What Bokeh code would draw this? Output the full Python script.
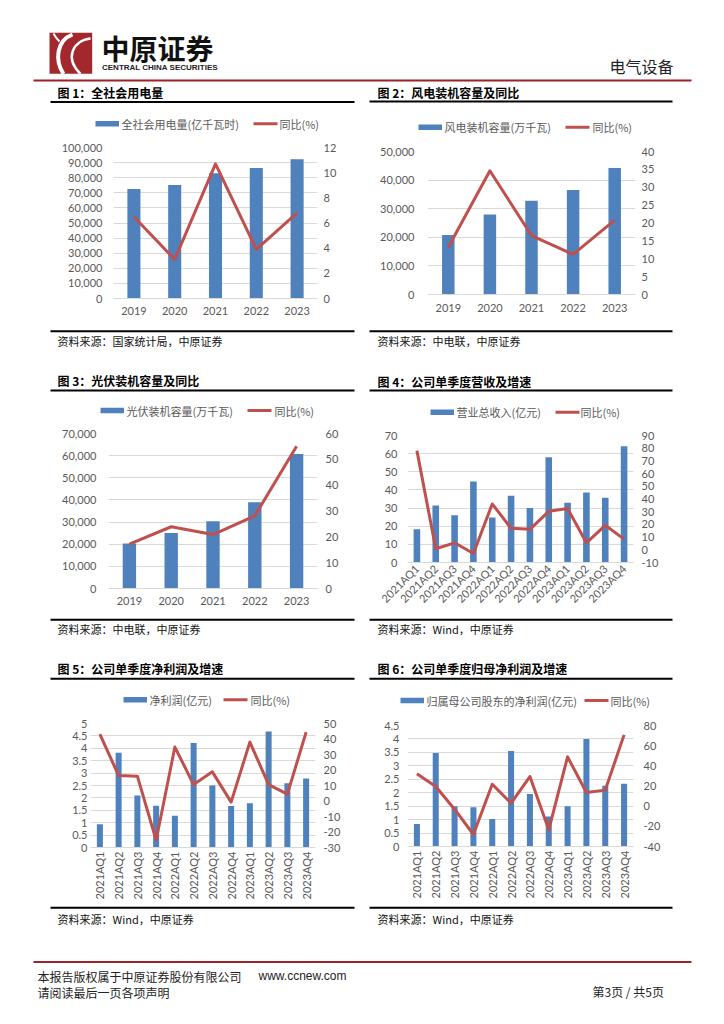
import math
from bokeh.plotting import figure
from bokeh.layouts import column, row
from bokeh.models import (Range1d, FactorRange, LinearAxis, FixedTicker, NumeralTickFormatter,
                          Label, ColumnDataSource)
from bokeh.embed import file_html
from bokeh.resources import INLINE

# ---------------- data ----------------
years = ["2019", "2020", "2021", "2022", "2023"]
quarters = ["2021AQ1", "2021AQ2", "2021AQ3", "2021AQ4",
            "2022AQ1", "2022AQ2", "2022AQ3", "2022AQ4",
            "2023AQ1", "2023AQ2", "2023AQ3", "2023AQ4"]

power_use = [72500, 75100, 83000, 86400, 92200]
power_use_yoy = [6.5, 3.1, 10.7, 3.9, 6.8]

wind_cap = [20800, 28000, 32800, 36500, 44200]
wind_yoy = [13.2, 34.6, 16.5, 11.2, 20.8]

solar_cap = [20300, 25100, 30400, 39000, 60700]
solar_yoy = [17.2, 23.9, 20.9, 28.1, 55.1]

revenue = [18.3, 31.4, 26.1, 44.7, 24.8, 36.8, 30.1, 58.0, 32.9, 38.6, 35.7, 64.1]
revenue_yoy = [78.1, 0.8, 5.5, -2.9, 36.1, 16.9, 16.1, 30.3, 32.5, 5.5, 19.3, 8.4]

net_profit = [0.94, 3.82, 2.10, 1.68, 1.28, 4.21, 2.50, 1.67, 1.78, 4.68, 2.59, 2.78]
net_profit_yoy = [43.2, 16.4, 16.0, -25.3, 34.8, 10.6, 18.8, -0.7, 38.0, 10.6, 4.4, 44.4]

parent_np = [0.84, 3.48, 1.50, 1.46, 1.02, 3.55, 1.95, 1.12, 1.50, 4.00, 2.26, 2.33]
parent_np_yoy = [32.1, 19.5, -3.0, -28.1, 21.8, 3.0, 29.4, -23.5, 48.9, 13.6, 15.9, 70.7]

ticks_l1 = [0, 10000, 20000, 30000, 40000, 50000, 60000, 70000, 80000, 90000, 100000]
ticks_r1 = [0, 2, 4, 6, 8, 10, 12]
ticks_l2 = [0, 10000, 20000, 30000, 40000, 50000]
ticks_r2 = [0, 5, 10, 15, 20, 25, 30, 35, 40]
ticks_l3 = [0, 10000, 20000, 30000, 40000, 50000, 60000, 70000]
ticks_r3 = [0, 10, 20, 30, 40, 50, 60]
ticks_l4 = [0, 10, 20, 30, 40, 50, 60, 70]
ticks_r4 = [-10, 0, 10, 20, 30, 40, 50, 60, 70, 80, 90]
ticks_l5 = [0, 0.5, 1, 1.5, 2, 2.5, 3, 3.5, 4, 4.5, 5]
ticks_r5 = [-30, -20, -10, 0, 10, 20, 30, 40, 50]
ticks_l6 = [0, 0.5, 1, 1.5, 2, 2.5, 3, 3.5, 4, 4.5]
ticks_r6 = [-40, -20, 0, 20, 40, 60, 80]

titles = ["图 1：全社会用电量", "图 2：风电装机容量及同比", "图 3：光伏装机容量及同比",
          "图 4：公司单季度营收及增速", "图 5：公司单季度净利润及增速", "图 6：公司单季度归母净利润及增速"]
sources = ["资料来源：国家统计局，中原证券", "资料来源：中电联，中原证券", "资料来源：中电联，中原证券",
           "资料来源：Wind，中原证券", "资料来源：Wind，中原证券", "资料来源：Wind，中原证券"]
bar_names = ["全社会用电量(亿千瓦时)", "风电装机容量(万千瓦)", "光伏装机容量(万千瓦)",
             "营业总收入(亿元)", "净利润(亿元)", "归属母公司股东的净利润(亿元)"]
line_name = "同比(%)"

# ---------------- style ----------------
BLUE = "#4f81bd"
RED = "#c0504d"
GRID = "#d9d9d9"
LABEL = "#595959"
DARKRED = "#9e2127"
CJK = "Noto Sans CJK SC"
NUM = "Lato"
PAGE_W = 724


def make_chart(cats, bars, yoy, lticks, lfmt, rticks, fig, frame, bar_w,
               lstand, rstand, xstand, orient=None):
    fx, fy, fw, fh = fig
    L, R, T, B = frame
    p = figure(width=fw, height=fh, x_range=FactorRange(factors=cats),
               y_range=Range1d(lticks[0], lticks[-1]),
               min_border_left=round(L - fx), min_border_right=round(fx + fw - R),
               min_border_top=round(T - fy), min_border_bottom=round(fy + fh - B),
               toolbar_location=None, output_backend="svg", title=None)
    p.outline_line_color = None
    p.background_fill_color = "white"
    p.border_fill_color = "white"
    p.extra_y_ranges = {"r": Range1d(rticks[0], rticks[-1])}

    src = ColumnDataSource(dict(cat=cats, bar=bars, yoy=yoy))
    p.vbar(x="cat", top="bar", width=bar_w, source=src, fill_color=BLUE, line_color=None)
    p.line(x="cat", y="yoy", source=src, y_range_name="r", line_color=RED,
           line_width=3, line_join="round")

    ya = p.yaxis[0]
    ya.ticker = FixedTicker(ticks=lticks)
    ya.formatter = NumeralTickFormatter(format=lfmt)
    ra = LinearAxis(y_range_name="r", ticker=FixedTicker(ticks=rticks),
                    formatter=NumeralTickFormatter(format="0"))
    p.add_layout(ra, "right")
    xa = p.xaxis[0]
    for ax in (ya, ra, xa):
        ax.axis_line_color = None
        ax.major_tick_line_color = None
        ax.minor_tick_line_color = None
        ax.major_tick_out = 0
        ax.major_tick_in = 0
        ax.major_label_text_font = NUM
        ax.major_label_text_font_size = "11px"
        ax.major_label_text_color = LABEL
    xa.axis_line_color = GRID
    ya.major_label_standoff = int(round(lstand))
    ra.major_label_standoff = int(round(rstand))
    xa.major_label_standoff = int(round(xstand))
    if orient is not None:
        xa.major_label_orientation = orient
    p.ygrid.ticker = FixedTicker(ticks=lticks)
    p.ygrid.grid_line_color = GRID
    p.xgrid.visible = False
    return p


def page_fig(top, bottom):
    f = figure(width=PAGE_W, height=int(bottom - top), x_range=Range1d(0, PAGE_W),
               y_range=Range1d(bottom, top), min_border=0, toolbar_location=None,
               output_backend="svg", x_axis_type=None, y_axis_type=None, title=None)
    f.outline_line_color = None
    f.background_fill_color = "white"
    f.border_fill_color = "white"
    f.grid.visible = False
    return f


def txt(f, x, y, s, size="12px", font=CJK, bold=False, color="#111111"):
    f.add_layout(Label(x=x, y=y, text=s, text_font=font, text_font_size=size,
                       text_font_style="bold" if bold else "normal",
                       text_baseline="middle", text_color=color))


def rule(f, x0, x1, y, color="black", th=2):
    f.quad(left=[x0], right=[x1], top=[y - th / 2], bottom=[y + th / 2],
           fill_color=color, line_color=None)


def head(f, i, tx, rx, ty, uy):
    txt(f, tx, ty, titles[i], size="12px", bold=True, color="black")
    rule(f, rx[0], rx[1], uy)


def legend(f, i, sx, y, lx, tx2):
    # bar swatch, label, line swatch, label
    f.quad(left=[sx], right=[sx + 23.5], top=[y - 2.8], bottom=[y + 2.8],
           fill_color=BLUE, line_color=None)
    txt(f, sx + 26, y, bar_names[i], size="11px", color=LABEL)
    f.segment(x0=[lx], y0=[y], x1=[lx + 24], y1=[y], line_color=RED, line_width=3)
    txt(f, tx2, y, line_name, size="11px", color=LABEL)


def foot(f, i, tx, rx, ly, sy):
    rule(f, rx[0], rx[1], ly)
    txt(f, tx, sy, sources[i], size="11px", color="#111111")


LR = (50, 354)
RR = (369, 672)

# ---------------- top: header + row-1 titles & legends ----------------
top = page_fig(0, 138)
top.quad(left=[49], right=[91.7], top=[32.3], bottom=[73.3], fill_color="#a3282d", line_color=None)
top.bezier(x0=[72, 90, 53], y0=[34, 38, 33], x1=[63, 80, 59], y1=[73.3, 73.3, 41],
           cx0=[56, 72, 55], cy0=[40, 40, 37], cx1=[54, 64, 57], cy1=[60, 58, 39],
           line_color="white", line_width=[4, 2.5, 2])
txt(top, 101, 47, "中原证券", size="28px", bold=True)
txt(top, 101.5, 66.7, "CENTRAL CHINA SECURITIES", size="8px", font="Liberation Sans", bold=True,
    color="#222222")
txt(top, 609, 65.5, "电气设备", size="16px", color="#222222")
rule(top, 33, 691, 80, color=DARKRED)
head(top, 0, 57, LR, 91.7, 101.5)
head(top, 1, 377, RR, 91.7, 101.0)
legend(top, 0, 95, 123.3, 253, 279)
legend(top, 1, 418, 126.7, 565, 592)

# ---------------- charts row 1 ----------------
p1 = make_chart(years, power_use, power_use_yoy, ticks_l1, "0,0", ticks_r1,
                (0, 138, 362, 184), (113, 317, 146.7, 298.3), 0.32, 11, 6, 8)
p2 = make_chart(years, wind_cap, wind_yoy, ticks_l2, "0,0", ticks_r2,
                (362, 138, 362, 184), (426.7, 635, 150.7, 294), 0.30, 12.7, 5.7, 9)

# ---------------- mid 1 ----------------
mid1 = page_fig(322, 425)
foot(mid1, 0, 57, LR, 330.7, 340.5)
foot(mid1, 1, 377, RR, 330.7, 340.5)
head(mid1, 2, 57, LR, 380, 390)
head(mid1, 3, 377, RR, 380.7, 390)
legend(mid1, 2, 100, 410, 247, 274)
legend(mid1, 3, 430, 411.7, 555, 580)

# ---------------- charts row 2 ----------------
p3 = make_chart(years, solar_cap, solar_yoy, ticks_l3, "0,0", ticks_r3,
                (0, 425, 362, 187), (108, 317, 432.7, 587.7), 0.32, 12, 8, 8)
p4 = make_chart(quarters, revenue, revenue_yoy, ticks_l4, "0", ticks_r4,
                (362, 425, 362, 187), (406.7, 633.3, 435.3, 561.7), 0.35, 10, 8.4, 4, math.pi / 4)

# ---------------- mid 2 ----------------
mid2 = page_fig(612, 714)
foot(mid2, 2, 57, LR, 619.3, 628.5)
foot(mid2, 3, 377, RR, 619.3, 628.5)
head(mid2, 4, 57, LR, 668.3, 678.3)
head(mid2, 5, 377, RR, 668.3, 678.3)
legend(mid2, 4, 123, 699.3, 223, 250)
legend(mid2, 5, 400, 700, 584, 610)

# ---------------- charts row 3 ----------------
p5 = make_chart(quarters, net_profit, net_profit_yoy, ticks_l5, "0.[0]", ticks_r5,
                (0, 714, 362, 188), (90, 315, 722.7, 847.3), 0.32, 3, 8, 4, math.pi / 2)
p6 = make_chart(quarters, parent_np, parent_np_yoy, ticks_l6, "0.[0]", ticks_r6,
                (362, 714, 362, 188), (406.7, 633.3, 724.7, 845.7), 0.32, 8, 10, 4, math.pi / 2)

# ---------------- bottom: row-3 sources + page footer ----------------
bot = page_fig(902, 1020)
foot(bot, 4, 57, LR, 907.3, 918.3)
foot(bot, 5, 377, RR, 907.3, 918.3)
rule(bot, 33, 691, 961.5, color=DARKRED)
txt(bot, 37, 975.5, "本报告版权属于中原证券股份有限公司", size="12px", color="#222222")
txt(bot, 258, 975.5, "www.ccnew.com", size="12px", font="Liberation Sans", color="#222222")
txt(bot, 37, 992.3, "请阅读最后一页各项声明", size="12px", color="#222222")
txt(bot, 592, 990.5, "第3页 / 共5页", size="12px", color="#222222")

layout = column(top, row(column(p1), column(p2)), mid1, row(column(p3), column(p4)), mid2,
                row(column(p5), column(p6)), bot)
open("out.html", "w").write(file_html(layout, INLINE))
